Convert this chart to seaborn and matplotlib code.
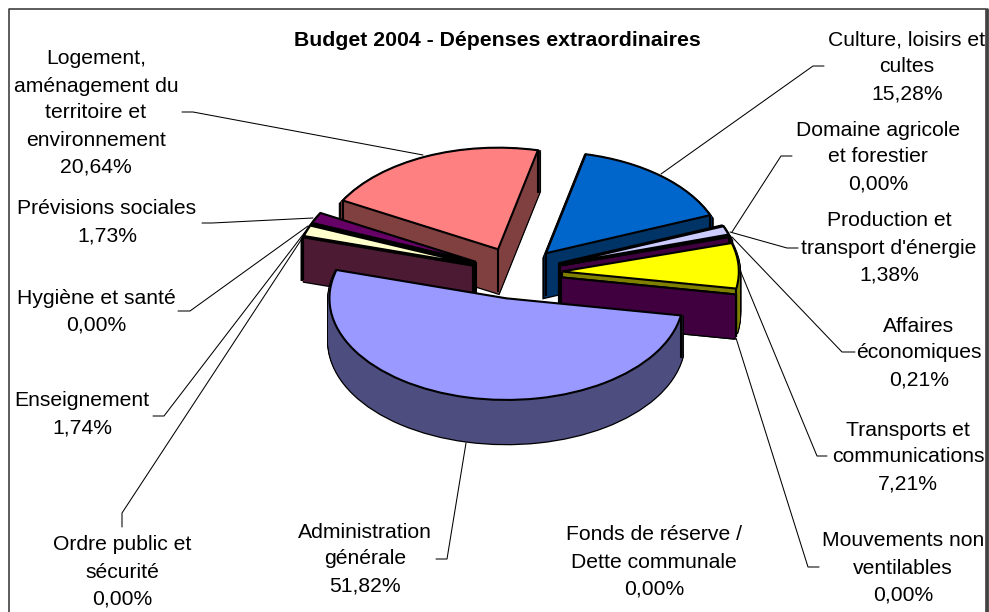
import numpy as np
import seaborn as sns
import matplotlib
matplotlib.use('Agg')
import matplotlib.pyplot as plt

# Budget shares, in chart order (clockwise)
categories = ['Culture, loisirs et\ncultes', 'Domaine agricole\net forestier',
              "Production et\ntransport d'énergie", 'Affaires\néconomiques',
              'Transports et\ncommunications', 'Mouvements non\nventilables',
              'Fonds de réserve /\nDette communale', 'Administration\ngénérale',
              'Ordre public et\nsécurité', 'Enseignement', 'Hygiène et santé',
              'Prévisions sociales', 'Logement,\naménagement du\nterritoire et\nenvironnement']
values = [15.28, 0.00, 1.38, 0.21, 7.21, 0.00, 0.00, 51.82, 0.00, 1.74, 0.00, 1.73, 20.64]
hex_colors = ['#0066CC', '#000080', '#CCCCFF', '#800080', '#FFFF00', '#800080', '#800080',
              '#9999FF', '#993366', '#FFFFCC', '#000000', '#660066', '#FF8080']

# label centre (x, y of first line) in pixels
label_pos = [(907, 38), (878, 128), (889, 219), (919, 324), (908, 428), (903, 539), (654, 533),
             (365, 530), (122, 543), (82, 399), (96, 296), (107, 207), (96, 57)]
leaders = [[(824, 66), (813, 66), (661, 174)],
           [(792, 156), (781, 156), (732, 232)],
           [(798, 248), (787, 248), (730, 232)],
           [(855, 352), (842, 352), (732, 237)],
           [(827, 456), (817, 456), (740, 270)],
           [(819, 567), (808, 567), (736, 338)],
           [(436, 559), (447, 559), (466, 443)],
           [(122, 527), (122, 513), (303, 237)],
           [(153, 416), (164, 416), (305, 232)],
           [(178, 311), (190, 311), (308, 226)],
           [(202, 223), (212, 223), (313, 218)],
           [(182, 112), (193, 112), (423, 155)]]

# drawing order, back to front
draw_order = [12, 0, 1, 2, 3, 4, 5, 6, 11, 10, 9, 8, 7]

radius = 177
squash = 0.574
depth = 43
explode_px = 45.3
cx, cy = 516.6, 273

sns.set_theme(style='white', font='Liberation Sans')
top_colors = sns.color_palette(hex_colors)
wall_colors = [tuple(c / 2 for c in col) for col in top_colors]

fig = plt.figure(figsize=(9.89, 6.12), dpi=100)
ax = fig.add_axes([0, 0, 1, 1])
rank = {idx: r for r, idx in enumerate(draw_order)}
explode = [explode_px] * len(values)
center_y = (612 - cy) / squash


def draw_pie(level, colors):
    wedges, _ = ax.pie(values, explode=explode, colors=colors, radius=radius, startangle=77,
                       counterclock=False, center=(cx, center_y - level / squash))
    return wedges


# side walls: black silhouette first, then the fill on top of it
for level in range(depth, 1, -1):
    for i, w in enumerate(draw_pie(level, wall_colors)):
        w.set(edgecolor='black', linewidth=3.4, zorder=rank[i] * 1000 + 100 - level)
for level in range(depth, 0, -1):
    for i, w in enumerate(draw_pie(level, wall_colors)):
        w.set(edgecolor=wall_colors[i], linewidth=1.6, zorder=rank[i] * 1000 + 200 - level)

# top faces and the vertical edges under them
for i, w in enumerate(draw_pie(0, top_colors)):
    w.set(edgecolor='black', linewidth=1.5, zorder=rank[i] * 1000 + 300)
    wx, wy = w.center
    xs = [wx] + [wx + w.r * np.cos(np.radians(t)) for t in (w.theta1, w.theta2)]
    ys = [wy] + [wy + w.r * np.sin(np.radians(t)) for t in (w.theta1, w.theta2)]
    ax.vlines(xs, np.array(ys) - depth / squash, ys, color='black', linewidth=1.5,
              zorder=rank[i] * 1000 + 250)

ax.set_aspect('auto')
ax.set_xlim(0, 989)
ax.set_ylim(0, 612 / squash)
ax.axis('off')

# overlay in pixel coordinates for labels, leader lines and frame
over = fig.add_axes([0, 0, 1, 1], facecolor='none')
over.set_xlim(0, 989)
over.set_ylim(612, 0)
over.axis('off')

line_px = 27
for name, val, (x, y) in zip(categories, values, label_pos):
    lines = name.split('\n') + [f'{val:.2f}%'.replace('.', ',')]
    for k, line in enumerate(lines):
        over.text(x, y + k * line_px, line, ha='center', va='center_baseline', fontsize=15.2,
                  color='black')

for pts in leaders:
    over.plot([p[0] for p in pts], [p[1] for p in pts], color='black', linewidth=0.75,
              solid_joinstyle='miter')

over.text(497, 39, 'Budget 2004 - Dépenses extraordinaires', ha='center', va='center_baseline',
          fontsize=15.3, fontweight='bold', color='black')

over.plot([9, 9, 986, 986], [612, 9, 9, 612], color='#303030', linewidth=1.1)
over.plot([986.5, 986.5], [9, 612], color='#404040', linewidth=2.0)
fig.savefig('out.png', dpi=100)
